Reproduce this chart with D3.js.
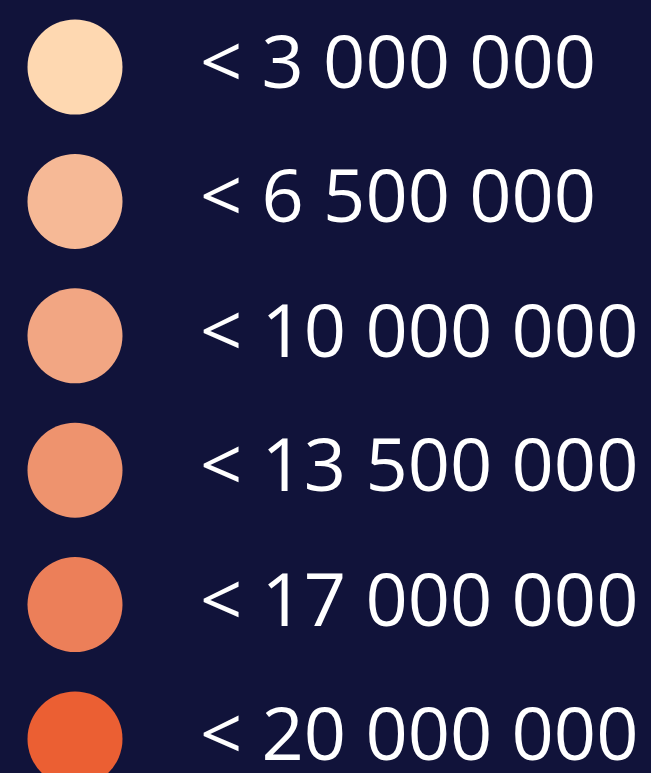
<!DOCTYPE html>
<html>
<head>
<meta charset="utf-8">
<script src="https://cdn.jsdelivr.net/npm/d3@7"></script>
<style>
  html, body { margin: 0; padding: 0; background: #11133a; }
  svg { display: block; }
</style>
</head>
<body>
<script>
// legend data
var thresholds = [3000000, 6500000, 10000000, 13500000, 17000000, 20000000];
var colors = ["#fed8b1", "#f6b996", "#f2a683", "#ee936e", "#ec7f59", "#eb5f33"];

var svgWidth = 651;
var svgHeight = 773;

var svg = d3.select("body")
  .append("svg")
  .attr("width", svgWidth)
  .attr("height", svgHeight);

svg.append("rect")
  .attr("width", svgWidth)
  .attr("height", svgHeight)
  .attr("fill", "#11133a");

// row positions
var yScale = d3.scalePoint()
  .domain(thresholds)
  .range([67, 739]);

var color = d3.scaleOrdinal()
  .domain(thresholds)
  .range(colors);

// space as thousands separator
var fmt = d3.formatLocale({ decimal: ",", thousands: " ", grouping: [3], currency: ["", ""] }).format(",d");

var rows = svg.selectAll(".row")
  .data(thresholds)
  .enter()
  .append("g")
  .attr("class", "row")
  .attr("transform", d => `translate(0, ${yScale(d)})`);

rows.append("circle")
  .attr("cx", 75)
  .attr("r", 47.5)
  .attr("fill", d => color(d));

rows.append("text")
  .attr("x", 200)
  .attr("y", 21)
  .attr("fill", "#ffffff")
  .style("font-family", "'Open Sans', 'Noto Sans', sans-serif")
  .style("font-size", "74px")
  .text(d => "< " + fmt(d));
</script>
</body>
</html>
